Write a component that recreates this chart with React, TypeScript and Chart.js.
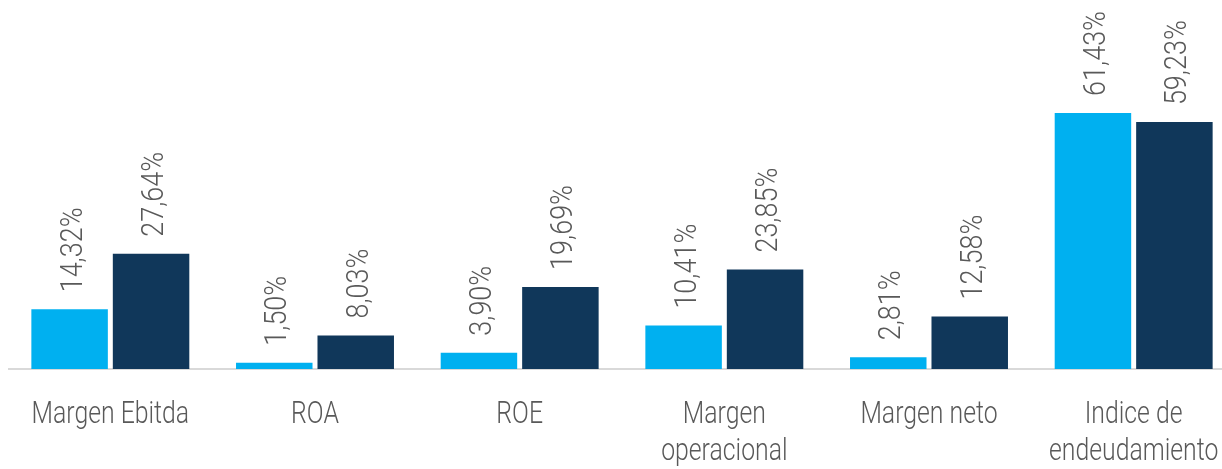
import React, { useEffect, useRef } from "react";
import { Chart, registerables } from "chart.js";

Chart.register(...registerables);

const categories: string[][] = [
  ["Margen Ebitda"],
  ["ROA"],
  ["ROE"],
  ["Margen", "operacional"],
  ["Margen neto"],
  ["Indice de", "endeudamiento"],
];
const seriesA = [14.32, 1.5, 3.9, 10.41, 2.81, 61.43];
const seriesB = [27.64, 8.03, 19.69, 23.85, 12.58, 59.23];

const FONT = "'Roboto', 'Liberation Sans', sans-serif";
const TEXT_COLOR = "#595959";
const SX_CAT = 0.8;
const SX_VAL = 0.87;

const fmt = (v: number) => v.toFixed(2).replace(".", ",") + "%";

const customText = {
  id: "customText",
  afterDatasetsDraw(chart: any) {
    const ctx = chart.ctx;
    ctx.save();
    ctx.font = `300 31px ${FONT}`;
    ctx.fillStyle = TEXT_COLOR;
    // value labels, rotated
    ctx.textAlign = "left";
    ctx.textBaseline = "alphabetic";
    chart.data.datasets.forEach((ds: any, di: number) => {
      const meta = chart.getDatasetMeta(di);
      meta.data.forEach((bar: any, i: number) => {
        const v = ds.data[i] as number;
        ctx.save();
        ctx.translate(bar.x + 12, bar.y - 17);
        ctx.rotate(-Math.PI / 2);
        ctx.scale(SX_VAL, 1);
        ctx.fillText(fmt(v), 0, 0);
        ctx.restore();
      });
    });
    // category labels
    const xs = chart.scales.x;
    const bottom = chart.chartArea.bottom;
    ctx.textAlign = "center";
    categories.forEach((lines, i) => {
      const x = xs.getPixelForValue(i);
      lines.forEach((line, li) => {
        ctx.save();
        ctx.translate(x, bottom + 54 + li * 37);
        ctx.scale(SX_CAT, 1);
        ctx.fillText(line, 0, 0);
        ctx.restore();
      });
    });
    ctx.restore();
  },
};

export default function App() {
  const ref = useRef<HTMLCanvasElement | null>(null);
  useEffect(() => {
    document.documentElement.style.overflow = "hidden";
    document.body.style.margin = "8px 0 0 8px";
    if (!ref.current) return;
    const chart = new Chart(ref.current, {
      type: "bar",
      data: {
        labels: categories.map((c) => c.join(" ")),
        datasets: [
          {
            label: "A",
            data: seriesA,
            backgroundColor: "#00B0F0",
            categoryPercentage: 0.796,
            barPercentage: 0.939,
          },
          {
            label: "B",
            data: seriesB,
            backgroundColor: "#10375A",
            categoryPercentage: 0.796,
            barPercentage: 0.939,
          },
        ],
      },
      options: {
        animation: false,
        responsive: false,
        maintainAspectRatio: false,
        layout: { padding: { top: 0, bottom: 100, left: 0, right: 0 } },
        plugins: {
          legend: { display: false },
          tooltip: { enabled: false },
        },
        scales: {
          x: {
            grid: { display: false, drawTicks: false },
            border: { display: true, color: "#D9D9D9", width: 2 },
            ticks: { display: false },
          },
          y: {
            display: false,
            min: 0,
            max: 86.6,
          },
        },
      },
      plugins: [customText],
    });
    return () => chart.destroy();
  }, []);
  return (
    <div style={{ width: 1214, height: 461, overflow: "hidden" }}>
      <canvas ref={ref} width={1228} height={461} style={{ display: "block" }} />
    </div>
  );
}
